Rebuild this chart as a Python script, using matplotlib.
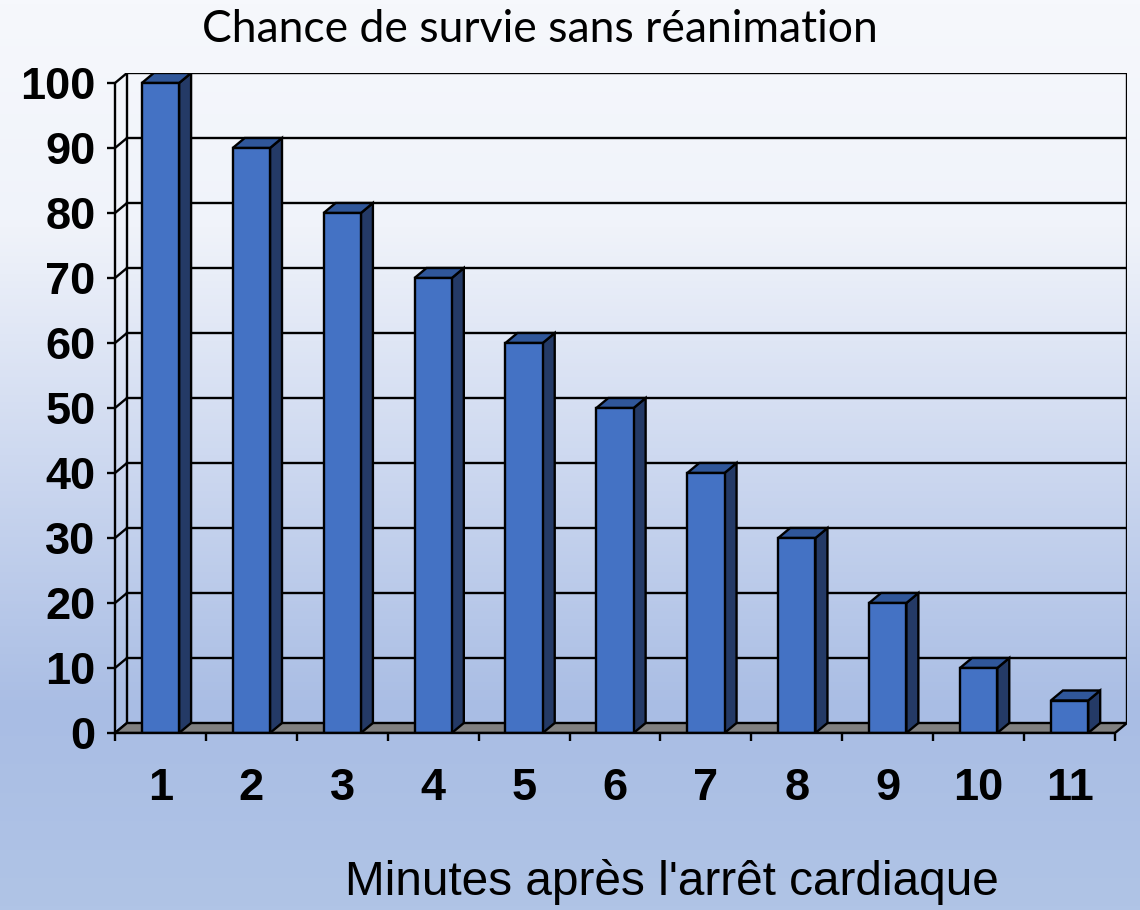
import numpy as np
import matplotlib
matplotlib.use('Agg')
import matplotlib.pyplot as plt
from matplotlib.patches import Polygon, Rectangle
from matplotlib.colors import LinearSegmentedColormap

# Données : chance de survie (%) selon les minutes après l'arrêt cardiaque
minutes = ['1', '2', '3', '4', '5', '6', '7', '8', '9', '10', '11']
survie = [100, 90, 80, 70, 60, 50, 40, 30, 20, 10, 5]
y_ticks = [0, 10, 20, 30, 40, 50, 60, 70, 80, 90, 100]

titre = "Chance de survie sans réanimation"
label_x = "Minutes après l'arrêt cardiaque"

# Effet 3D (profondeur en unités de données)
dx = 0.132
dy = 1.54
demi_largeur = 0.205

c_face = '#4472C4'
c_cote = '#243A66'
c_dessus = '#30579A'
lw = 1.7

fig = plt.figure(figsize=(11.4, 9.1), dpi=100)

# Fond dégradé
bg = fig.add_axes([0, 0, 1, 1], zorder=-10)
bg.axis('off')
cmap = LinearSegmentedColormap.from_list('fond', [
    (0.0, (246/255, 248/255, 252/255)),
    (0.25, (240/255, 243/255, 250/255)),
    (0.5, (206/255, 217/255, 240/255)),
    (0.78, (169/255, 189/255, 228/255)),
    (1.0, (176/255, 196/255, 230/255)),
])
grad = np.linspace(0, 1, 256).reshape(-1, 1)
bg.imshow(grad, aspect='auto', cmap=cmap, extent=[0, 1, 0, 1], origin='upper')

ax = fig.add_axes([115/1140, 177/910, 1012/1140, 660/910])
ax.patch.set_alpha(0)
n = len(minutes)
ax.set_xlim(0, n + dx)
ax.set_ylim(0, 100 + dy)

# Paroi du fond et grille
for v in y_ticks:
    if v > 0:
        ax.plot([dx, n + dx], [v + dy, v + dy], color='black', lw=lw, zorder=1)
    ax.plot([0, dx], [v, v + dy], color='black', lw=lw, zorder=1)
ax.plot([dx, dx], [dy, 100 + dy], color='black', lw=lw, zorder=1)
ax.plot([n + dx, n + dx], [dy, 100 + dy], color='black', lw=lw, zorder=1)

# Sol
sol = Polygon([(0, 0), (n, 0), (n + dx, dy), (dx, dy)], closed=True,
              facecolor='#808080', edgecolor='black', lw=lw, zorder=2)
ax.add_patch(sol)

# Barres 3D
for i, v in enumerate(survie):
    c = i + 0.5
    x0, x1 = c - demi_largeur, c + demi_largeur
    cote = Polygon([(x1, 0), (x1 + dx, dy), (x1 + dx, v + dy), (x1, v)], closed=True,
                   facecolor=c_cote, edgecolor='black', lw=lw, zorder=3)
    dessus = Polygon([(x0, v), (x1, v), (x1 + dx, v + dy), (x0 + dx, v + dy)], closed=True,
                     facecolor=c_dessus, edgecolor='black', lw=lw, zorder=3)
    face = Rectangle((x0, 0), x1 - x0, v, facecolor=c_face, edgecolor='black',
                     lw=lw, zorder=4)
    ax.add_patch(cote)
    ax.add_patch(dessus)
    ax.add_patch(face)

# Axes
for s in ['top', 'right']:
    ax.spines[s].set_visible(False)
ax.spines['left'].set_bounds(0, 100)
ax.spines['bottom'].set_bounds(0, n)
for s in ['left', 'bottom']:
    ax.spines[s].set_linewidth(lw)
    ax.spines[s].set_zorder(5)

ax.set_yticks(y_ticks)
ax.set_yticklabels([str(v) for v in y_ticks], fontsize=32.5, fontweight='bold',
                   family='Liberation Sans')
ax.tick_params(axis='y', length=6, width=lw, pad=8)

ax.set_xticks(np.arange(n) + 0.5)
ax.set_xticklabels(minutes, fontsize=32.5, fontweight='bold', family='Liberation Sans')
ax.set_xticks(np.arange(n + 1), minor=True)
ax.tick_params(axis='x', which='major', length=0, pad=25)
ax.tick_params(axis='x', which='minor', length=6, width=lw)

fig.text(540/1140, 1 - 30/910, titre, ha='center', va='center', fontsize=32,
         family='Lato')
fig.text(672/1140, 1 - 882/910, label_x, ha='center', va='center', fontsize=34.4,
         family='Liberation Sans')

fig.savefig('out.png', dpi=100)
